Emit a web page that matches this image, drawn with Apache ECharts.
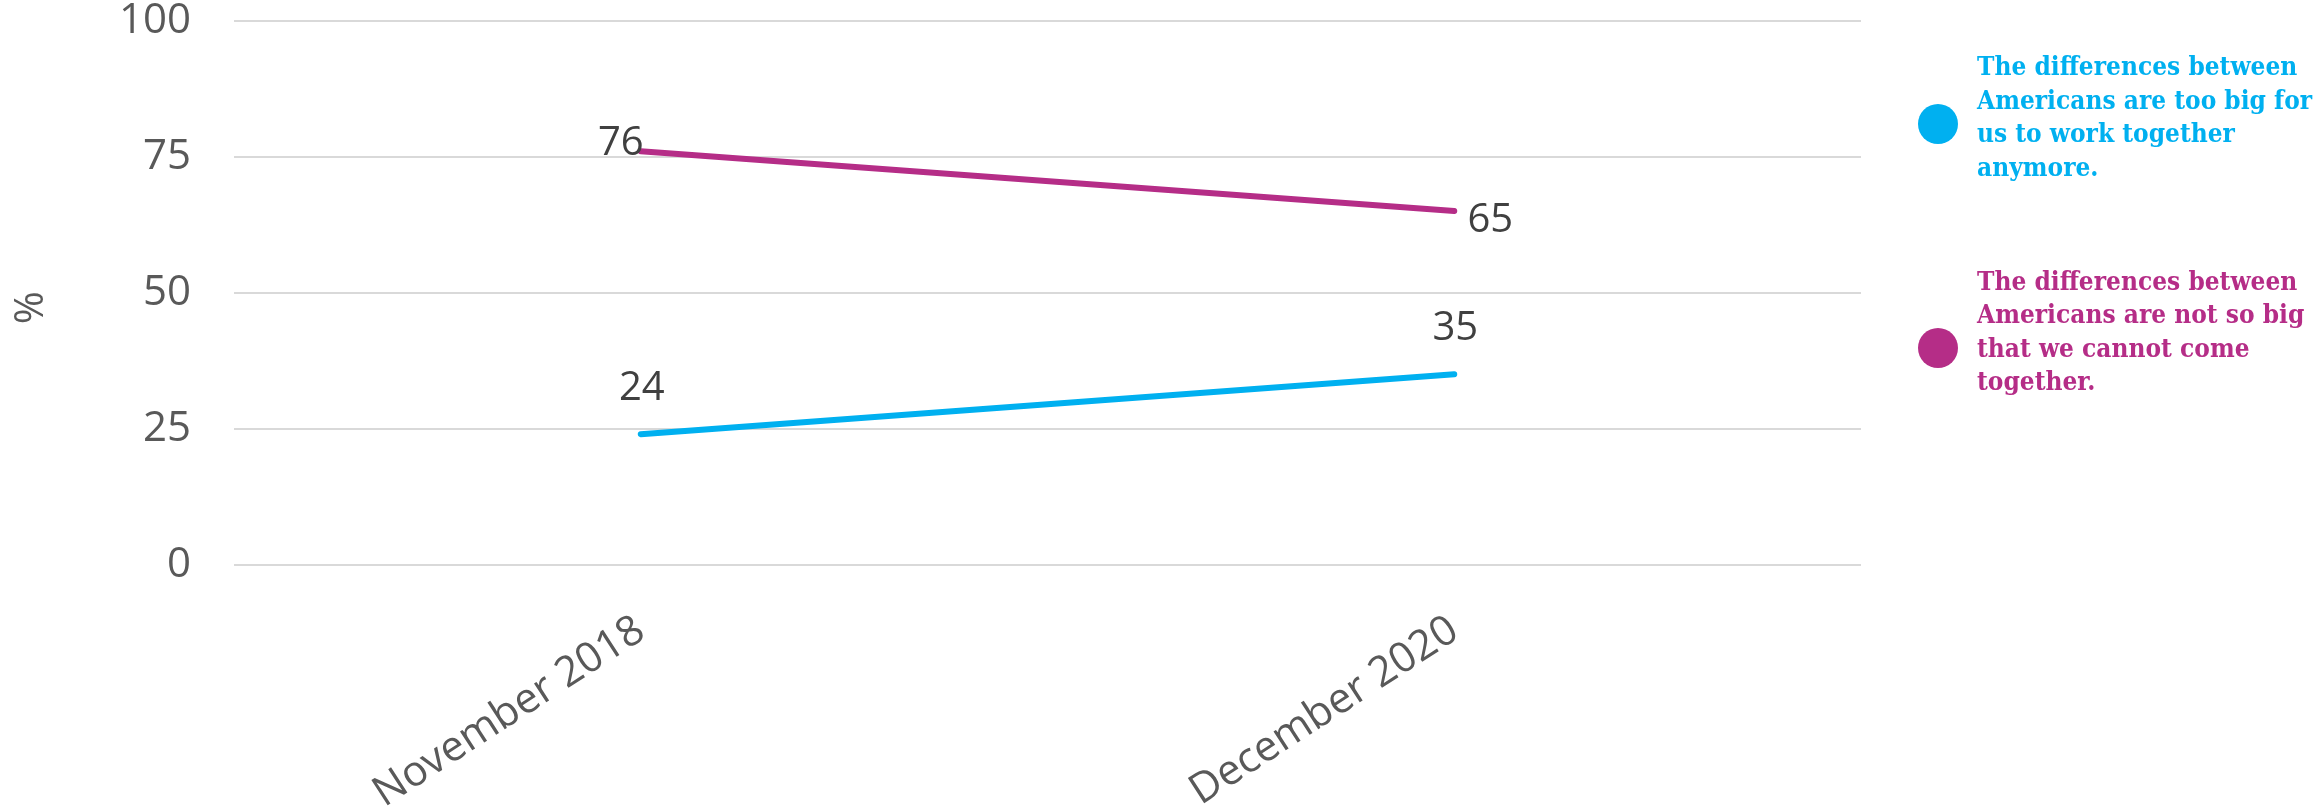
<!DOCTYPE html>
<html>
<head>
<meta charset="utf-8">
<style>
  html, body { margin: 0; padding: 0; background: #ffffff; }
  #chart { width: 2318px; height: 808px; }
</style>
<script src="https://cdn.jsdelivr.net/npm/echarts@6/dist/echarts.min.js"></script>
</head>
<body>
<div id="chart"></div>
<script>
// ---- data ----
const categories = ['November 2018', 'December 2020'];
const seriesNames = [
  'The differences between\nAmericans are too big for\nus to work together\nanymore.',
  'The differences between\nAmericans are not so big\nthat we cannot come\ntogether.'
];
const tooBigValues = [24, 35];
const notSoBigValues = [76, 65];
const yTicks = [0, 25, 50, 75, 100];
const yAxisTitle = '%';

// ---- styles ----
const colors = ['#00B0F0', '#B52D87'];
const labelOffsets = [
  [[1, -46], [1, -46]],
  [[-20, -8], [36, 10]]
];
const legendTops = [51.5, 266];
const legendSpacer = [11, 30];

function buildData(values, offsets) {
  return values.map((v, i) => ({
    value: v,
    label: { offset: offsets[i] }
  }));
}

const chart = echarts.init(document.getElementById('chart'), null, { renderer: 'canvas' });

const lineSeries = [tooBigValues, notSoBigValues].map((vals, s) => ({
  name: seriesNames[s],
  type: 'line',
  data: buildData(vals, labelOffsets[s]),
  symbol: 'circle',
  symbolSize: 1,
  showSymbol: true,
  color: colors[s],
  lineStyle: { width: 6, color: colors[s], cap: 'round' },
  itemStyle: { color: colors[s] },
  label: {
    show: true,
    position: 'inside',
    fontFamily: "'Open Sans', sans-serif",
    fontSize: 40,
    color: '#404040'
  },
  emphasis: { disabled: true },
  animation: false
}));

const legends = seriesNames.map((n, i) => ({
  orient: 'vertical',
  left: 1918,
  top: legendTops[i],
  padding: 0,
  itemWidth: 40,
  itemHeight: 40,
  icon: 'circle',
  selectedMode: false,
  formatter: (name) => name + '\n{s| }',
  textStyle: {
    fontFamily: "'DejaVu Serif Condensed', 'DejaVu Serif', serif",
    fontWeight: 'bold',
    fontSize: 26,
    lineHeight: 33.5,
    color: colors[i],
    padding: [0, 0, 0, 14],
    rich: {
      s: { fontSize: 2, lineHeight: legendSpacer[i] }
    }
  },
  data: [n]
}));

chart.setOption({
  animation: false,
  grid: {
    left: 234, right: 457, top: 20.7, bottom: 243.3,
    containLabel: false,
    outerBoundsMode: 'none'
  },
  legend: legends,
  xAxis: {
    type: 'category',
    data: categories,
    boundaryGap: true,
    axisLine: { show: false },
    axisTick: { show: false },
    axisLabel: {
      rotate: 33,
      margin: 62,
      fontFamily: "'Open Sans', sans-serif",
      fontSize: 42,
      color: '#595959'
    },
    splitLine: { show: false }
  },
  yAxis: {
    type: 'value',
    min: yTicks[0],
    max: yTicks[yTicks.length - 1],
    interval: yTicks[1] - yTicks[0],
    name: yAxisTitle,
    nameLocation: 'middle',
    nameGap: 182,
    nameRotate: 90,
    nameTextStyle: {
      fontFamily: "'Open Sans', sans-serif",
      fontSize: 40,
      color: '#595959',
      padding: [0, 30, 0, 0]
    },
    axisLine: { show: false },
    axisTick: { show: false },
    axisLabel: {
      margin: 43,
      fontFamily: "'Open Sans', sans-serif",
      fontSize: 42,
      color: '#595959'
    },
    splitLine: { show: true, lineStyle: { color: '#D9D9D9', width: 2 } }
  },
  series: lineSeries
});
</script>
</body>
</html>
